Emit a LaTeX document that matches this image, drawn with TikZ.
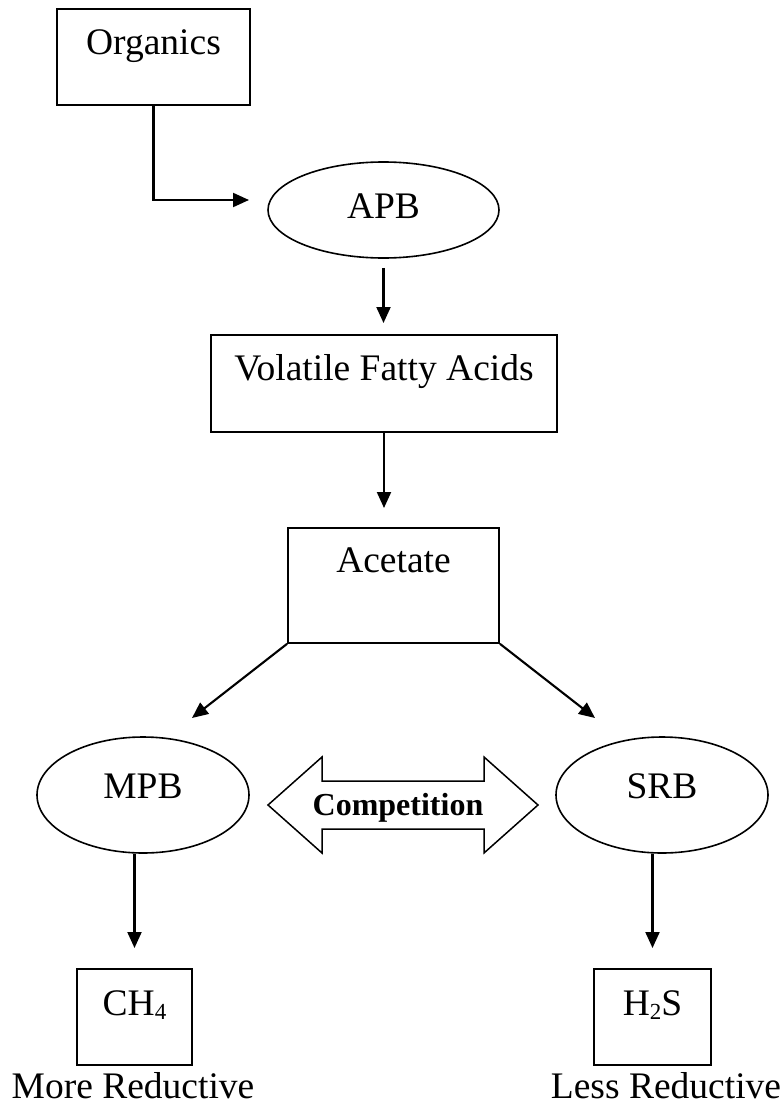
\documentclass[tikz,border=0pt]{standalone}
\usepackage{fontspec}
\setmainfont{Liberation Serif}
\usetikzlibrary{arrows.meta,shapes.geometric,calc}
\newcommand\lowsub[1]{\raisebox{-4pt}{\fontsize{23}{23}\selectfont #1}}
\begin{document}
\begin{tikzpicture}[x=1pt,y=-1pt,
  every node/.style={font=\fontsize{37.5}{44}\selectfont},
  box/.style={draw,line width=1.8pt,rectangle,inner sep=0pt,anchor=north},
  oval/.style={draw,line width=1.6pt,ellipse,inner sep=0pt},
  conn/.style={line width=2.1pt,-{Triangle[length=16pt,width=14pt]}},
  bigarrow/.style={draw,line width=1.5pt},
]
\useasboundingbox (0,0) rectangle (780,1105);

% nodes
\node[box,minimum width=193pt,text height=46pt,text depth=50pt] (org) at (153.5,8) {Organics};
\node[oval,minimum width=231pt,minimum height=96pt,text height=20pt,text depth=4pt] (apb) at (383.5,210) {APB};
\node[box,minimum width=346pt,text height=46pt,text depth=51pt] (vfa) at (384,334) {Volatile Fatty Acids};
\node[box,minimum width=211pt,text height=45pt,text depth=70pt] (ace) at (393.5,527) {Acetate};
\node[oval,minimum width=212pt,minimum height=116pt,text height=14pt,text depth=8pt] (mpb) at (143,795) {MPB};
\node[oval,minimum width=212pt,minimum height=116pt,text height=14pt,text depth=8pt] (srb) at (662,795) {SRB};
\node[box,minimum width=115pt,text height=47pt,text depth=49pt] (ch4) at (134.5,968) {CH\lowsub{4}};
\node[box,minimum width=117pt,text height=47pt,text depth=49pt] (h2s) at (652.5,968) {H\lowsub{2}S};
\node[anchor=base] (more) at (133,1098) {More Reductive};
\node[anchor=base] (less) at (666,1098) {Less Reductive};

% competition double arrow
\draw[bigarrow] (268,805) -- (322,757) -- (322,781) -- (484,781) -- (484,757)
  -- (538,805) -- (484,853) -- (484,829) -- (322,829) -- (322,853) -- cycle;
\node[anchor=base,font=\bfseries\fontsize{32}{36}\selectfont] (comp) at (398,815) {Competition};

% connectors
\coordinate (t1) at (249,200);
\coordinate (t2) at (192,718);
\coordinate (t3) at (595,718);
\draw[conn] (org.south) |- (t1);
\draw[conn,shorten <=9pt,shorten >=11pt] (apb.south) -- (apb.south |- vfa.north);
\draw[conn,shorten >=19pt] (vfa.south) -- (vfa.south |- ace.north);
\draw[conn] (ace.south west) -- (t2);
\draw[conn] (ace.south east) -- (t3);
\draw[conn,shorten >=20pt] (ch4.north |- mpb.south) -- (ch4.north);
\draw[conn,shorten >=20pt] (h2s.north |- srb.south) -- (h2s.north);
\end{tikzpicture}
\end{document}
